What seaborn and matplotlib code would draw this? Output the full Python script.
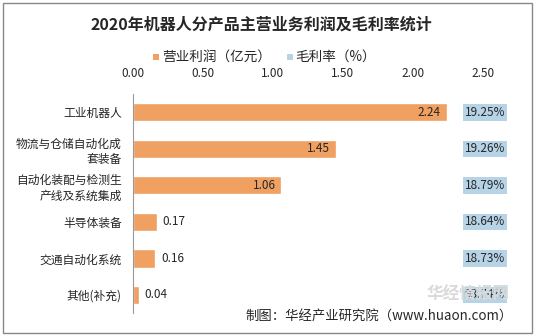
import matplotlib
matplotlib.use("Agg")
import matplotlib.pyplot as plt
import seaborn as sns
import pandas as pd
import numpy as np
from matplotlib.patches import Rectangle

sns.set_style("white")
plt.rcParams['font.family'] = ['Noto Sans CJK SC', 'DejaVu Sans']

categories = ["工业机器人", "物流与仓储自动化成\n套装备", "自动化装配与检测生\n产线及系统集成",
              "半导体装备", "交通自动化系统", "其他(补充)"]
profit = [2.24, 1.45, 1.06, 0.17, 0.16, 0.04]
margin_labels = ["19.25%", "19.26%", "18.79%", "18.64%", "18.73%", "93.74%"]
xticks = [0.0, 0.5, 1.0, 1.5, 2.0, 2.5]

ORANGE = "#F0A060"
BLUE = "#B7D4E7"
TXT = "#262626"

df = pd.DataFrame({"cat": categories, "profit": profit})

fig = plt.figure(figsize=(5.36, 3.36), dpi=100)
ax = fig.add_axes([0.248, 0.068, 0.653, 0.652])

sns.barplot(data=df, y="cat", x="profit", orient="h", color=ORANGE, width=0.5,
            saturation=1, ax=ax)

ax.set_xlim(0, 2.5)
ax.set_ylim(5.5, -0.5)
ax.set_xlabel("")
ax.set_ylabel("")
ax.xaxis.tick_top()
ax.set_xticks(xticks)
ax.set_xticklabels([f"{v:.2f}" for v in xticks], fontsize=8.5, color=TXT)
ax.tick_params(axis="x", length=0, pad=10)
ax.set_yticks(range(len(categories)))
ax.set_yticklabels(categories, fontsize=8.5, color=TXT, linespacing=1.3)
ax.tick_params(axis="y", length=0, pad=8)
ax.set_yticks(np.arange(-0.5, len(categories), 1.0), minor=True)
ax.tick_params(axis="y", which="minor", length=4, color="#999999", width=0.8)
for s in ["top", "right", "bottom"]:
    ax.spines[s].set_visible(False)
ax.spines["left"].set_color("#999999")
ax.spines["left"].set_linewidth(0.8)

# watermark (faint, behind labels)
fig.text(468/536, 1-295/336, "华经情报网", ha="center", va="center", fontsize=12,
         fontweight="bold", color="#DADADA", zorder=0)

for i, v in enumerate(profit):
    if v > 0.5:
        ax.text(v - 0.04, i, f"{v:.2f}", ha="right", va="center", fontsize=8.5, color=TXT)
    else:
        ax.text(v + 0.04, i, f"{v:.2f}", ha="left", va="center", fontsize=8.5, color=TXT)
    ax.text(2.515, i, margin_labels[i], ha="center", va="center", fontsize=8.5, color=TXT,
            clip_on=False,
            bbox=dict(boxstyle="square,pad=0.15", facecolor=BLUE, edgecolor="none"))

# title
fig.text(261/536, 1-25/336, "2020年机器人分产品主营业务利润及毛利率统计", ha="center", va="center",
         fontsize=11.5, fontweight="bold", color=TXT)

# legend
fig.patches.append(Rectangle((153/536, 1-60/336), 6/536, 6/336, transform=fig.transFigure,
                             facecolor=ORANGE, edgecolor="none"))
fig.text(162/536, 1-57/336, "营业利润（亿元）", ha="left", va="center", fontsize=9.8, color=TXT)
fig.patches.append(Rectangle((287/536, 1-60/336), 6/536, 6/336, transform=fig.transFigure,
                             facecolor=BLUE, edgecolor="none"))
fig.text(295/536, 1-57/336, "毛利率（%）", ha="left", va="center", fontsize=9.8, color=TXT)

# source
fig.text(513/536, 1-317/336, "制图：华经产业研究院（www.huaon.com）", ha="right", va="center",
         fontsize=9.6, color=TXT)

# outer border
fig.patches.append(Rectangle((3/536, 3/336), 529/536, 330/336, transform=fig.transFigure,
                             facecolor="none", edgecolor="#888888", linewidth=1))

fig.savefig("out.png", dpi=100)
